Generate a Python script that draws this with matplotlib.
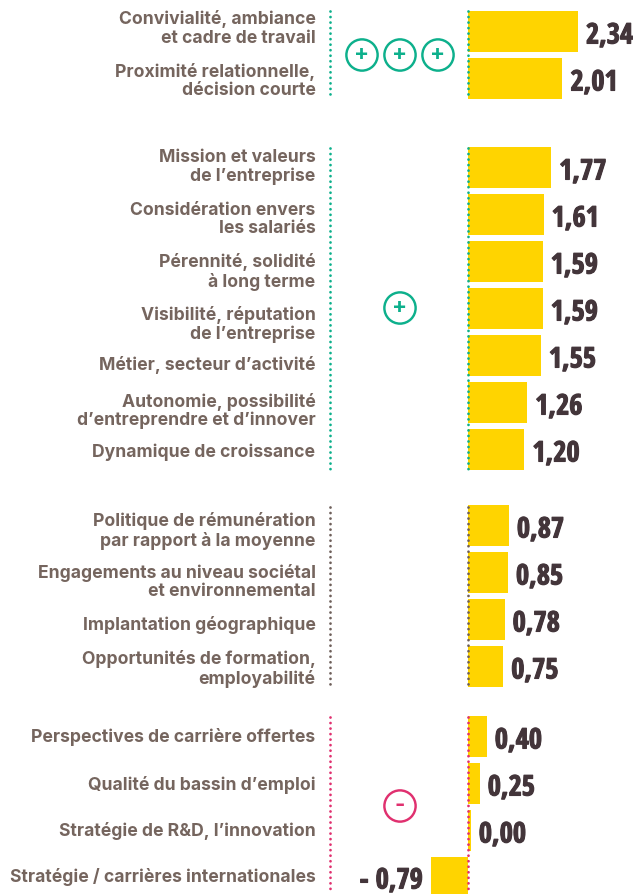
import matplotlib

matplotlib.use('Agg')

from matplotlib import pyplot as plt
from matplotlib import patheffects

##### Data #####

group1_labels = ['Convivialité, ambiance\net cadre de travail', 'Proximité relationnelle,\ndécision courte']
group2_labels = ['Mission et valeurs\nde l’entreprise', 'Considération envers\nles salariés', 'Pérennité, solidité\nà long terme',
	'Visibilité, réputation\nde l’entreprise', 'Métier, secteur d’activité', 'Autonomie, possibilité\nd’entreprendre et d’innover', 'Dynamique de croissance']
group3_labels = ['Politique de rémunération\npar rapport à la moyenne', 'Engagements au niveau sociétal\net environnemental',
	'Implantation géographique', 'Opportunités de formation,\nemployabilité']
group4_labels = ['Perspectives de carrière offertes', 'Qualité du bassin d’emploi', 'Stratégie de R&D, l’innovation', 'Stratégie / carrières internationales']

group1_values = [2.34, 2.01]
group2_values = [1.77, 1.61, 1.59, 1.59, 1.55, 1.26, 1.20]
group3_values = [0.87, 0.85, 0.78, 0.75]
group4_values = [0.40, 0.25, 0.00, -0.79]

##### Styles #####

YELLOW = '#FFD400'
TEXT_COLOR = '#75655E'
VALUE_COLOR = '#43353A'
TEAL = '#0DB08C'
PINK = '#E0306F'
GREY = '#6E5F5A'

PX_PER_UNIT = 47.0
ZERO_X = 468.0
STEP = 47.0
BAR_H = 41.0
AXIS_X = (330.0 - ZERO_X) / PX_PER_UNIT
LABEL_X = (315.5 - ZERO_X) / PX_PER_UNIT

VALUE_FONT = ['Open Sans Condensed', 'DejaVu Sans']
LABEL_FONT = ['Inter', 'Liberation Sans', 'DejaVu Sans']
VALUE_SIZE = 20.5


def px(x):
	return (x - ZERO_X) / PX_PER_UNIT


def draw_value(ax, x, y, txt, ha):
	# the original digits are heavier than the condensed bold, a thin stroke fattens them
	t = ax.text(x, y, txt, ha=ha, va='center', fontsize=VALUE_SIZE, fontweight='bold', color=VALUE_COLOR,
		family=VALUE_FONT)
	t.set_path_effects([patheffects.withStroke(linewidth=0.8, foreground=VALUE_COLOR)])


def draw_group(ax, labels, values, first_y, label_offsets, color, line_top, line_bottom):
	ys = [first_y + i * STEP for i in range(len(values))]
	for y, val, lab, off in zip(ys, values, labels, label_offsets):
		# the zero bar still shows as a thin sliver in the original
		width = val if val != 0 else 0.06
		ax.barh(y, width, height=BAR_H, color=YELLOW, linewidth=0, zorder=2)
		ax.text(LABEL_X, y + off, lab, ha='right', va='center', fontsize=12.65, fontweight='bold',
			color=TEXT_COLOR, family=LABEL_FONT, linespacing=1.09)
		txt = ('%.2f' % abs(val)).replace('.', ',')
		if val < 0:
			draw_value(ax, val - 8 / PX_PER_UNIT, y + 3.5, '- ' + txt, 'right')
		else:
			draw_value(ax, width + 8 / PX_PER_UNIT, y + 4.5, txt, 'left')
	for x in [AXIS_X, 0]:
		ax.plot([x, x], [line_top, line_bottom], color=color, linewidth=2.0, linestyle=(0, (0.01, 1.98)),
			dash_capstyle='round', zorder=3)


def draw_badge(ax, x_px, y, sign, color):
	ax.scatter([px(x_px)], [y], s=22.5 ** 2, facecolors='none', edgecolors=color, linewidths=1.75, zorder=3)
	ax.text(px(x_px), y - 1, sign, ha='center', va='center', fontsize=16, fontweight='bold', color=color,
		family=LABEL_FONT)


##### Main script #####

fig = plt.figure(figsize=(6.33, 8.94), dpi=100)
ax = fig.add_axes([0, 0, 1, 1])
ax.set_xlim(px(0), px(633))
ax.set_ylim(894, 0)
ax.axis('off')

draw_group(ax, group1_labels, group1_values, 31.5, [-3, 2.5], TEAL, 11, 98)
draw_group(ax, group2_labels, group2_values, 167.5, [-0.5, 5, 10.5, 16, 10, 8.5, 3], TEAL, 148, 470)
draw_group(ax, group3_labels, group3_values, 525.5, [5.5, 9.5, 6, 2.5], GREY, 507, 687)
draw_group(ax, group4_labels, group4_values, 736.5, [1, 1, 1, -1], PINK, 717, 891)

for x in [362, 400, 438]:
	draw_badge(ax, x, 55, '+', TEAL)
draw_badge(ax, 400, 308, '+', TEAL)
draw_badge(ax, 400, 806, '-', PINK)

plt.savefig('out.png', dpi=100)
